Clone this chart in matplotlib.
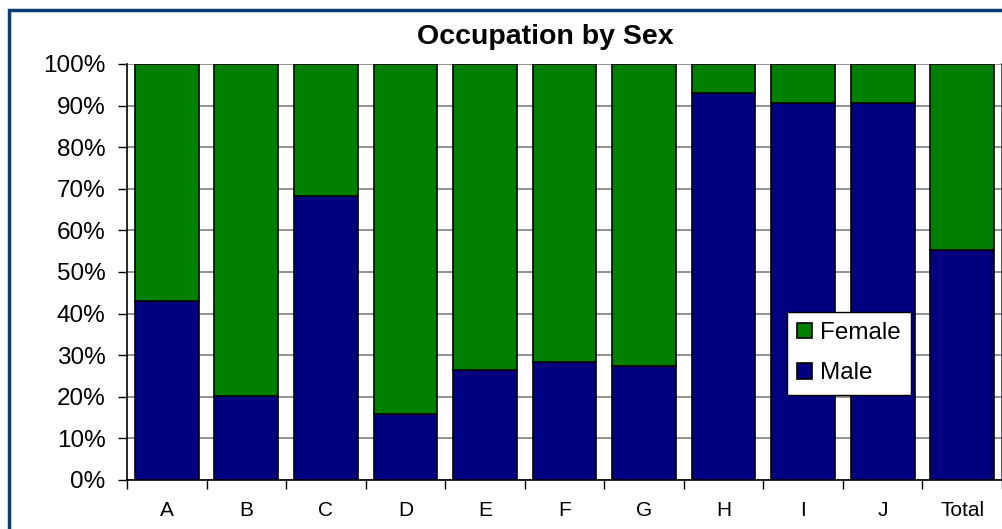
import matplotlib.pyplot as plt
from matplotlib.patches import Rectangle
from matplotlib.ticker import FixedLocator, PercentFormatter
import numpy as np

categories = ['A', 'B', 'C', 'D', 'E', 'F', 'G', 'H', 'I', 'J', 'Total']
male = [43.0, 20.2, 68.3, 15.9, 26.4, 28.4, 27.4, 93.0, 90.6, 90.6, 55.3]
female = [100 - m for m in male]

plt.rcParams['font.family'] = ['Liberation Sans', 'DejaVu Sans']

W, H = 1003, 529
fig = plt.figure(figsize=(W / 100, H / 100), dpi=100)
ax = fig.add_axes([127 / W, 1 - 480 / H, (1002 - 127) / W, (480 - 64) / H])

# dark blue frame around the chart (runs off the right and bottom edges)
fig.patches.append(Rectangle((9.5 / W, -0.1), 1.2, 1 - 9.5 / H + 0.1,
                             transform=fig.transFigure, fill=False,
                             edgecolor='#0b3d72', linewidth=2.5))

x = np.arange(len(categories))
w = 0.8
ax.bar(x, male, w, color='#000080', edgecolor='black', linewidth=1.2,
       label='Male', zorder=3)
ax.bar(x, female, w, bottom=male, color='#008000', edgecolor='black',
       linewidth=1.2, label='Female', zorder=3)

ax.set_xlim(-0.5, len(categories) - 0.5)
ax.set_ylim(0, 100)
ax.set_yticks(np.arange(0, 101, 10))
ax.yaxis.set_major_formatter(PercentFormatter(decimals=0))
ax.yaxis.grid(True, color='#808080', linewidth=1.2, zorder=0)

ax.set_xticks(x)
ax.set_xticklabels(categories)
ax.xaxis.set_minor_locator(FixedLocator(np.arange(-0.5, len(categories), 1)))
ax.tick_params(axis='x', which='major', length=0, pad=15, labelsize=15)
ax.tick_params(axis='x', which='minor', length=6.5, width=1, direction='out')
ax.tick_params(axis='y', length=6.5, width=1, direction='out', labelsize=17.5, pad=9)

ax.spines['top'].set_visible(False)
ax.spines['left'].set_linewidth(1.2)
ax.spines['bottom'].set_linewidth(1.2)
ax.spines['right'].set_linewidth(1.2)
ax.spines['right'].set_color('#404040')

fig.text(545 / W, 1 - 37 / H, 'Occupation by Sex', ha='center', va='center',
         fontsize=20.5, fontweight='bold')

handles, labels = ax.get_legend_handles_labels()
leg = ax.legend(handles[::-1], labels[::-1], loc='upper left',
                bbox_to_anchor=((787 - 127) / (1002 - 127), (480 - 312) / 416),
                fontsize=17.5, frameon=True, fancybox=False, framealpha=1,
                edgecolor='black', handlelength=0.6, handleheight=0.6,
                handletextpad=0.35, borderpad=0.42, labelspacing=0.75,
                borderaxespad=0)
leg.get_frame().set_linewidth(1.0)

fig.savefig('out.png', dpi=100)
